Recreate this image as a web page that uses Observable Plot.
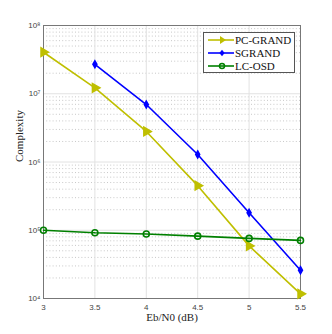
<!DOCTYPE html>
<html><head><meta charset="utf-8">
<script src="https://cdn.jsdelivr.net/npm/d3@7"></script>
<script src="https://cdn.jsdelivr.net/npm/@observablehq/plot@0.6"></script>
<style>
body{margin:0;background:#fff;}
#wrap{position:relative;width:332px;height:334px;}
#legend{position:absolute;left:203px;top:32px;width:92px;height:41px;border:1px solid #555;background:#fff;font-family:"Liberation Serif",serif;font-size:11px;color:#111;box-sizing:border-box;padding-top:1px;white-space:nowrap;}
#legend .row{display:flex;align-items:center;height:12.7px;}
#legend svg{margin-left:2px;margin-right:1px;}
</style></head>
<body><div id="wrap"><div id="legend"></div></div>
<script>
const snr = [3, 3.5, 4, 4.5, 5, 5.5];
const pcGrand = [4.06e7, 1.22e7, 2.8e6, 4.5e5, 5.9e4, 1.17e4];
const sgrandX = [3.5, 4, 4.5, 5, 5.5];
const sgrand = [2.7e7, 6.95e6, 1.29e6, 1.8e5, 2.6e4];
const lcOsd = [1.0e5, 9.2e4, 8.8e4, 8.2e4, 7.6e4, 7.1e4];
const seriesNames = ["PC-GRAND", "SGRAND", "LC-OSD"];
const colors = ["#bfbf00", "#0000ff", "#008000"];
const yMajor = [1e4, 1e5, 1e6, 1e7, 1e8];
const yMinor = d3.range(4, 8).flatMap(k => d3.range(2, 10).map(m => m * 10 ** k));
const xTicks = [3, 3.5, 4, 4.5, 5, 5.5];
const sup = {"4":"⁴","5":"⁵","6":"⁶","7":"⁷","8":"⁸"};
const yFmt = d => "10" + sup[String(Math.round(Math.log10(d)))];

const pcData = snr.map((x, i) => ({x, y: pcGrand[i]}));
const sgData = sgrandX.map((x, i) => ({x, y: sgrand[i]}));
const lcData = snr.map((x, i) => ({x, y: lcOsd[i]}));

const chart = Plot.plot({
  width: 332, height: 334,
  marginLeft: 43, marginRight: 32, marginTop: 25, marginBottom: 36,
  style: {fontFamily: "'Liberation Sans', sans-serif", fontSize: "8px", color: "#444", background: "#fff"},
  x: {domain: [3, 5.5], label: null},
  y: {type: "log", domain: [1e4, 1e8], label: null},
  marks: [
    Plot.gridY(yMinor, {stroke: "#c8c8c8", strokeOpacity: 1, strokeDasharray: "1,2.2"}),
    Plot.gridY(yMajor, {stroke: "#e2e2e2", strokeOpacity: 1}),
    Plot.gridX(xTicks, {stroke: "#e2e2e2", strokeOpacity: 1}),
    Plot.frame({stroke: "#777"}),
    Plot.axisX(xTicks, {tickSize: 0, tickPadding: 6, fontSize: 8, tickFormat: d => String(d)}),
    Plot.axisY(yMajor, {tickSize: 0, tickPadding: 3, fontSize: 8, tickFormat: yFmt}),
    Plot.line(pcData, {x: "x", y: "y", stroke: colors[0], strokeWidth: 1.6}),
    Plot.line(sgData, {x: "x", y: "y", stroke: colors[1], strokeWidth: 1.6}),
    Plot.line(lcData, {x: "x", y: "y", stroke: colors[2], strokeWidth: 1.6}),
    Plot.dot(pcData, {x: "x", y: "y", symbol: "triangle", rotate: 90, r: 3.2, fill: colors[0], stroke: colors[0]}),
    Plot.dot(sgData, {x: "x", y: "y", symbol: "diamond", r: 2.1, fill: colors[1], stroke: colors[1]}),
    Plot.dot(lcData, {x: "x", y: "y", symbol: "circle", r: 3, fill: "none", stroke: colors[2], strokeWidth: 1.6}),
    Plot.text(["Eb/N0 (dB)"], {frameAnchor: "bottom", dy: 22, fontFamily: "'Liberation Serif', serif", fontSize: 11, fill: "#222"}),
    Plot.text(["Complexity"], {frameAnchor: "left", dx: -24, rotate: -90, fontFamily: "'Liberation Serif', serif", fontSize: 11, fill: "#222"})
  ]
});
document.getElementById("wrap").prepend(chart);

const leg = document.getElementById("legend");
const syms = [
  '<path d="M14,-4 L20,0 L14,4 Z" fill="'+colors[0]+'"/>',
  '<path d="M16,-3.2 L18.6,0 L16,3.2 L13.4,0 Z" fill="'+colors[1]+'"/>',
  '<circle cx="16" cy="0" r="2.5" fill="none" stroke="'+colors[2]+'" stroke-width="1.5"/>'
];
seriesNames.forEach((n, i) => {
  const row = document.createElement("div");
  row.className = "row";
  row.innerHTML = '<svg width="28" height="10" viewBox="0 -5 28 10"><line x1="2" x2="28" y1="0" y2="0" stroke="'+colors[i]+'" stroke-width="1.6"/>'+syms[i]+'</svg><span>'+n+'</span>';
  leg.appendChild(row);
});
</script></body></html>
